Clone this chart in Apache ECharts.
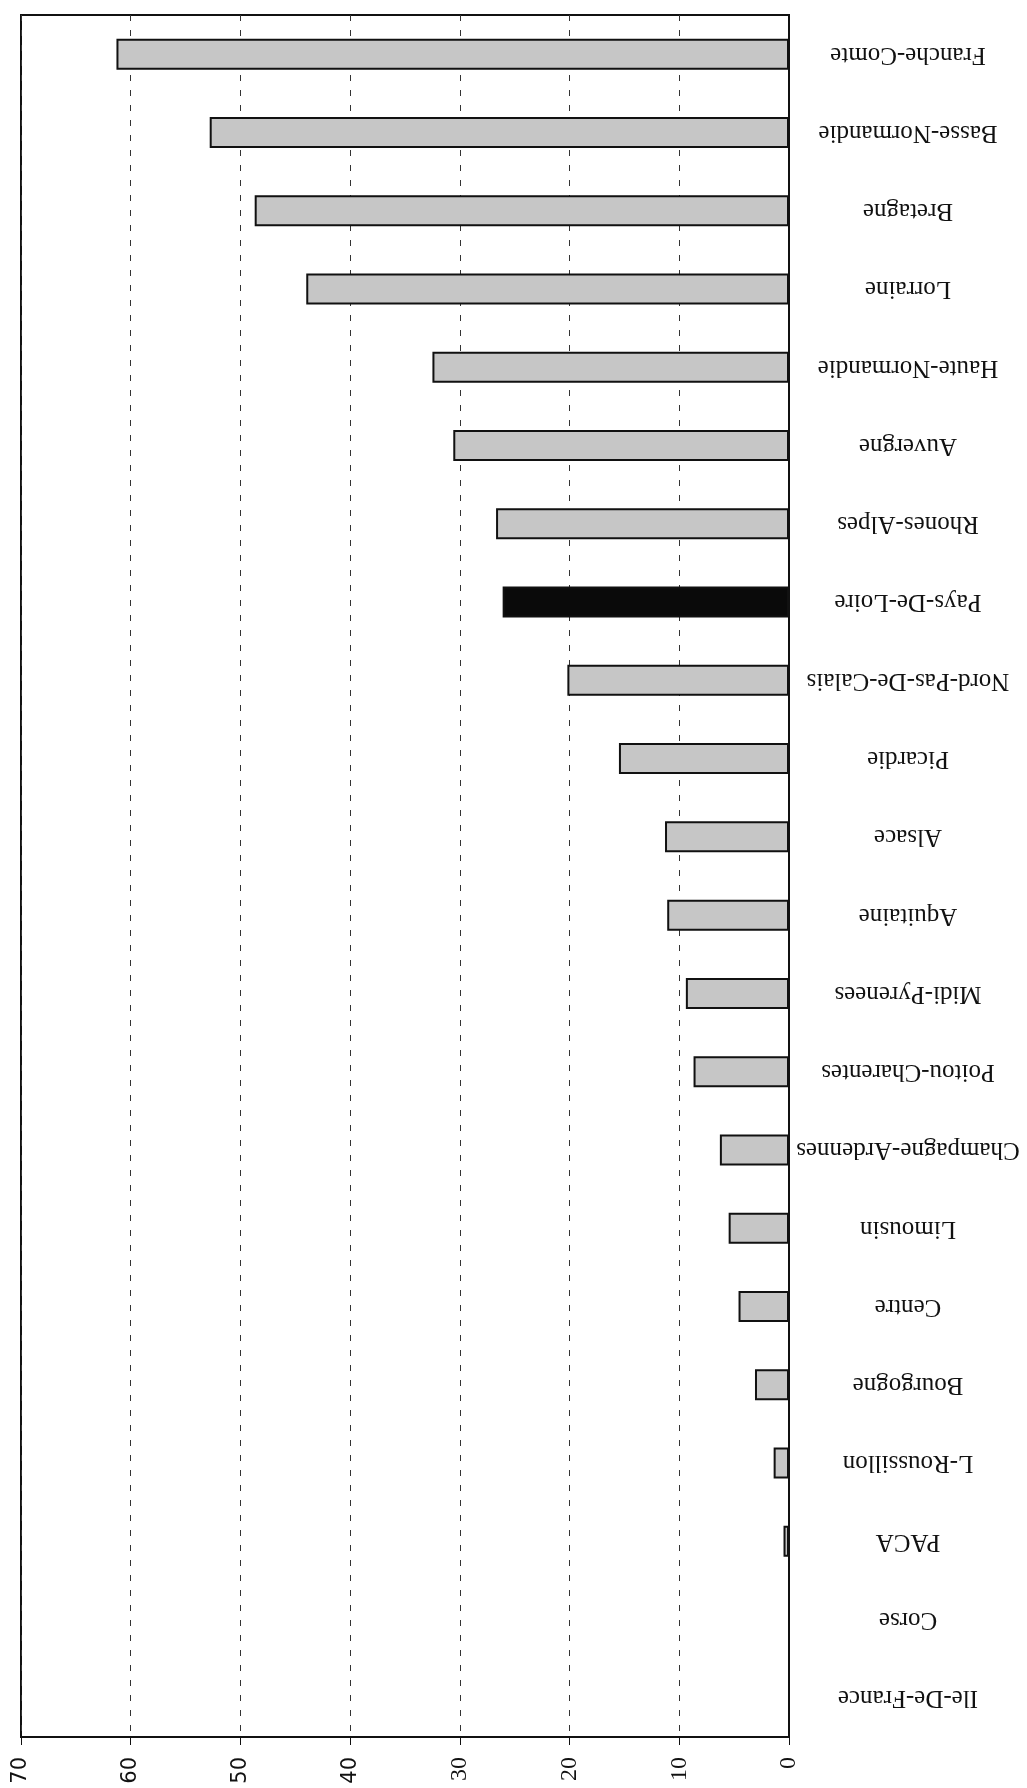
<!DOCTYPE html>
<html>
<head>
<meta charset="utf-8">
<script src="https://cdn.jsdelivr.net/npm/echarts@6/dist/echarts.min.js"></script>
<style>
html,body{margin:0;padding:0;background:#fff;}
#chart{width:1027px;height:1788px;}
</style>
</head>
<body>
<div id="chart"></div>
<script>
const regions = ["Franche-Comte","Basse-Normandie","Bretagne","Lorraine","Haute-Normandie","Auvergne","Rhones-Alpes","Pays-De-Loire","Nord-Pas-De-Calais","Picardie","Alsace","Aquitaine","Midi-Pyrenees","Poitou-Charentes","Champagne-Ardennes","Limousin","Centre","Bourgogne","L-Roussillon","PACA","Corse","Ile-De-France"];
const values = [61.3,52.8,48.7,44.0,32.5,30.6,26.7,26.1,20.2,15.5,11.3,11.1,9.4,8.7,6.3,5.5,4.6,3.1,1.4,0.5,0,0];
const highlighted = ["Pays-De-Loire"];
const valueTicks = [0,10,20,30,40,50,60,70];

const chart = echarts.init(document.getElementById('chart'), null, {renderer:'canvas'});
chart.setOption({
  animation:false,
  backgroundColor:'#ffffff',
  grid:{left:21,right:238,top:15,bottom:51,show:true,borderColor:'#111',borderWidth:2,containLabel:false},
  xAxis:{
    type:'value', inverse:true, position:'bottom',
    min:valueTicks[0], max:valueTicks[valueTicks.length-1], interval:10,
    axisLine:{show:true,onZero:false,lineStyle:{color:'#111',width:2}},
    axisTick:{show:true,length:8,lineStyle:{color:'#111',width:1}},
    splitLine:{show:true,lineStyle:{color:'#333',width:1,type:[6,9]}},
    axisLabel:{
      rotate:90, margin:20, color:'#111',
      formatter:function(v){ return v>=40 ? '{s|'+v+'}' : '{t|'+v+'}'; },
      rich:{
        s:{fontFamily:'DejaVu Sans',fontSize:21,color:'#111'},
        t:{fontFamily:'Liberation Serif',fontSize:24,color:'#111'}
      }
    }
  },
  yAxis:{
    type:'category', position:'right', inverse:true, data:regions,
    axisLine:{show:true,lineStyle:{color:'#111',width:2}},
    axisTick:{show:false},
    splitLine:{show:false},
    axisLabel:{
      rotate:180, margin:119, align:'center', verticalAlign:'middle',
      fontFamily:'Liberation Serif', fontSize:25, color:'#111', interval:0
    }
  },
  series:[{
    type:'bar',
    barWidth:31,
    data:values.map(function(v,i){
      const hl = highlighted.indexOf(regions[i])>=0;
      return {value:v,itemStyle:{color:hl?'#0a0a0a':'#c6c6c6',borderColor:'#111',borderWidth:2}};
    })
  }]
});
</script>
</body>
</html>
